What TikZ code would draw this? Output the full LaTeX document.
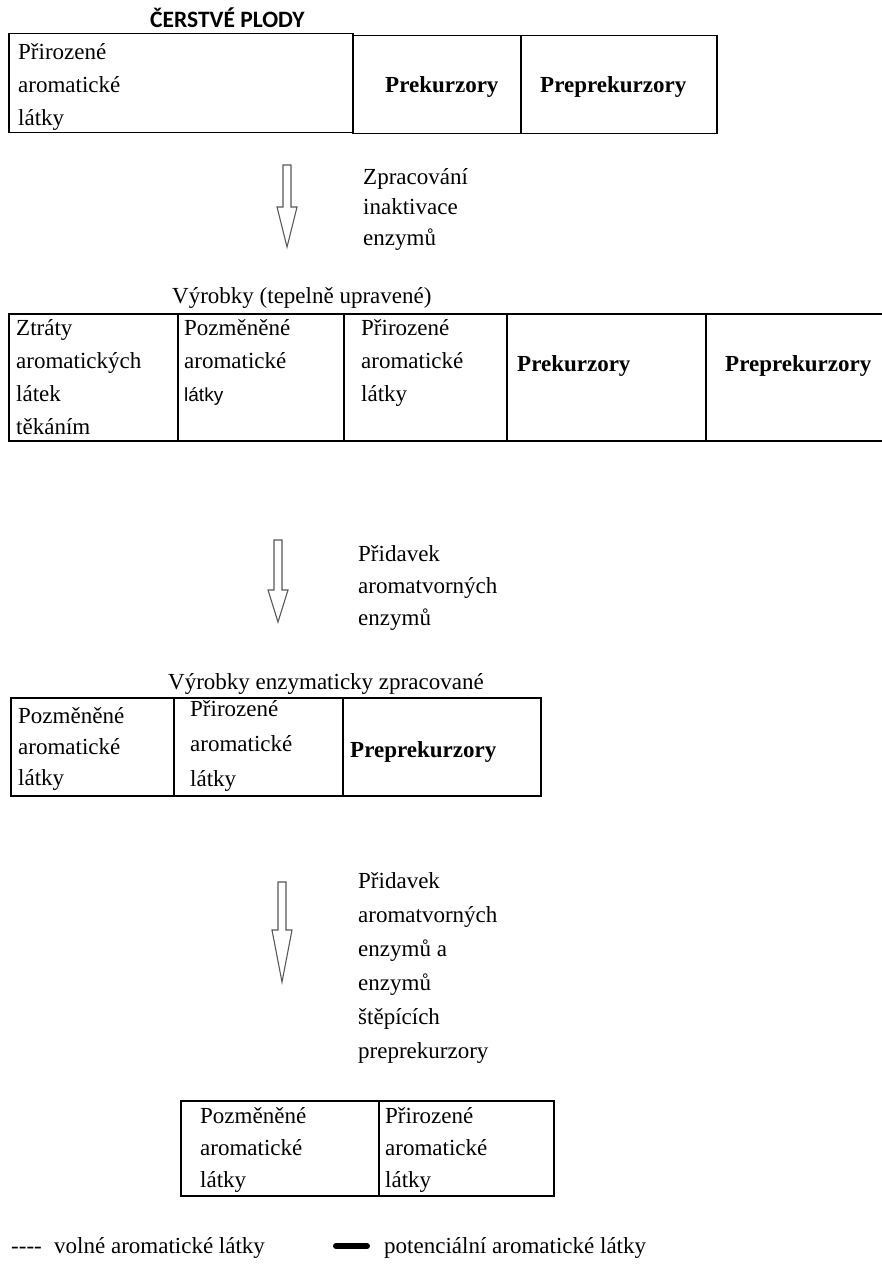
\documentclass[tikz,border=0pt]{standalone}
\usepackage{fontspec}
\setmainfont{Liberation Serif}
\newfontfamily\titlefont{Carlito}
\newfontfamily\arialfont{Liberation Sans}
\newcommand\fs{\fontsize{23}{33}\selectfont}
\begin{document}
\begin{tikzpicture}[x=1pt,y=-1pt,
  cell/.style={draw, line width=1.5pt, inner sep=0pt, anchor=north west},
  txt/.style={anchor=base west, inner sep=0pt, align=left, font=\fs},
  btxt/.style={txt, font=\fs\bfseries},
  sp/.style={execute at begin node={\fontsize{23}{#1}\selectfont}},
  blockarrow/.style={draw=black!65, line width=1.1pt, fill=white, line join=miter}]
\useasboundingbox (0,0) rectangle (882,1265);
\fill[white] (0,0) rectangle (882,1265);

% ---------- Box 1: fresh fruit ----------
\node[anchor=base west, inner sep=0pt, font=\titlefont\bfseries\fontsize{23.5}{26}\selectfont] (title1) at (150,28) {ČERSTVÉ PLODY};
\node[cell, minimum width=344pt, minimum height=99pt] (c1a) at (8,33) {};
\node[cell, minimum width=168pt, minimum height=98pt] (c1b) at (352,35) {};
\node[cell, minimum width=196pt, minimum height=98pt] (c1c) at (520,35) {};
\node[txt] (t1a) at (18,126) {Přirozené\\aromatické\\látky};
\node[btxt] (t1b) at (385,93) {Prekurzory};
\node[btxt] (t1c) at (540,93) {Preprekurzory};

% ---------- Arrow 1 ----------
\draw[blockarrow] (283,165) -- (291,165) -- (291,207) -- (297,207) -- (287,247) -- (277,207) -- (283,207) -- cycle;
\node[txt, sp=31] (a1) at (363,246) {Zpracování\\inaktivace\\enzymů};

% ---------- Box 2 ----------
\node[txt] (title2) at (172,303) {Výrobky (tepelně upravené)};
\node[cell, minimum width=169pt, minimum height=127pt] (c2a) at (8,313) {};
\node[cell, minimum width=166pt, minimum height=127pt] (c2b) at (177,313) {};
\node[cell, minimum width=163pt, minimum height=127pt] (c2c) at (343,313) {};
\node[cell, minimum width=199pt, minimum height=127pt] (c2d) at (506,313) {};
\node[cell, minimum width=180pt, minimum height=127pt] (c2e) at (705,313) {};
\node[txt] (t2a) at (16,434) {Ztráty\\aromatických\\látek\\těkáním};
\node[txt] (t2b) at (184,401) {Pozměněné\\aromatické\\{\arialfont\fontsize{19}{33}\selectfont látky}};
\node[txt] (t2c) at (361,401) {Přirozené\\aromatické\\látky};
\node[btxt] (t2d) at (517,371) {Prekurzory};
\node[btxt] (t2e) at (725,371) {Preprekurzory};

% ---------- Arrow 2 ----------
\draw[blockarrow] (274,540) -- (282,540) -- (282,590) -- (288,590) -- (278,622) -- (268,590) -- (274,590) -- cycle;
\node[txt, sp=32] (a2) at (358,625) {Přidavek\\aromatvorných\\enzymů};

% ---------- Box 3 ----------
\node[txt] (title3) at (168,689) {Výrobky enzymaticky zpracované};
\node[cell, minimum width=163pt, minimum height=98pt] (c3a) at (10,697) {};
\node[cell, minimum width=169pt, minimum height=98pt] (c3b) at (173,697) {};
\node[cell, minimum width=198pt, minimum height=98pt] (c3c) at (342,697) {};
\node[txt, sp=31] (t3a) at (18,785) {Pozměněné\\aromatické\\látky};
\node[txt, sp=35] (t3b) at (190,786) {Přirozené\\aromatické\\látky};
\node[btxt] (t3c) at (350,757) {Preprekurzory};

% ---------- Arrow 3 ----------
\draw[blockarrow] (278,882) -- (286,882) -- (286,930) -- (292,930) -- (282,982) -- (272,930) -- (278,930) -- cycle;
\node[txt, sp=34] (a3) at (358,1058) {Přidavek\\aromatvorných\\enzymů a\\enzymů\\štěpících\\preprekurzory};

% ---------- Box 4 ----------
\node[cell, minimum width=198pt, minimum height=95pt] (c4a) at (180,1100) {};
\node[cell, minimum width=175pt, minimum height=95pt] (c4b) at (378,1100) {};
\node[txt, sp=32] (t4a) at (200,1187) {Pozměněné\\aromatické\\látky};
\node[txt, sp=32] (t4b) at (385,1187) {Přirozené\\aromatické\\látky};

% ---------- Legend ----------
\node[txt] (ldash) at (11,1253) {-{}-{}-{}-};
\node[txt] (l1) at (54,1253) {volné aromatické látky};
\coordinate (barA) at (336,1246);
\coordinate (barB) at (367,1246);
\draw[line width=6pt, line cap=round] (barA) -- (barB);
\node[txt] (l2) at (384,1253) {potenciální aromatické látky};
\end{tikzpicture}
\end{document}
